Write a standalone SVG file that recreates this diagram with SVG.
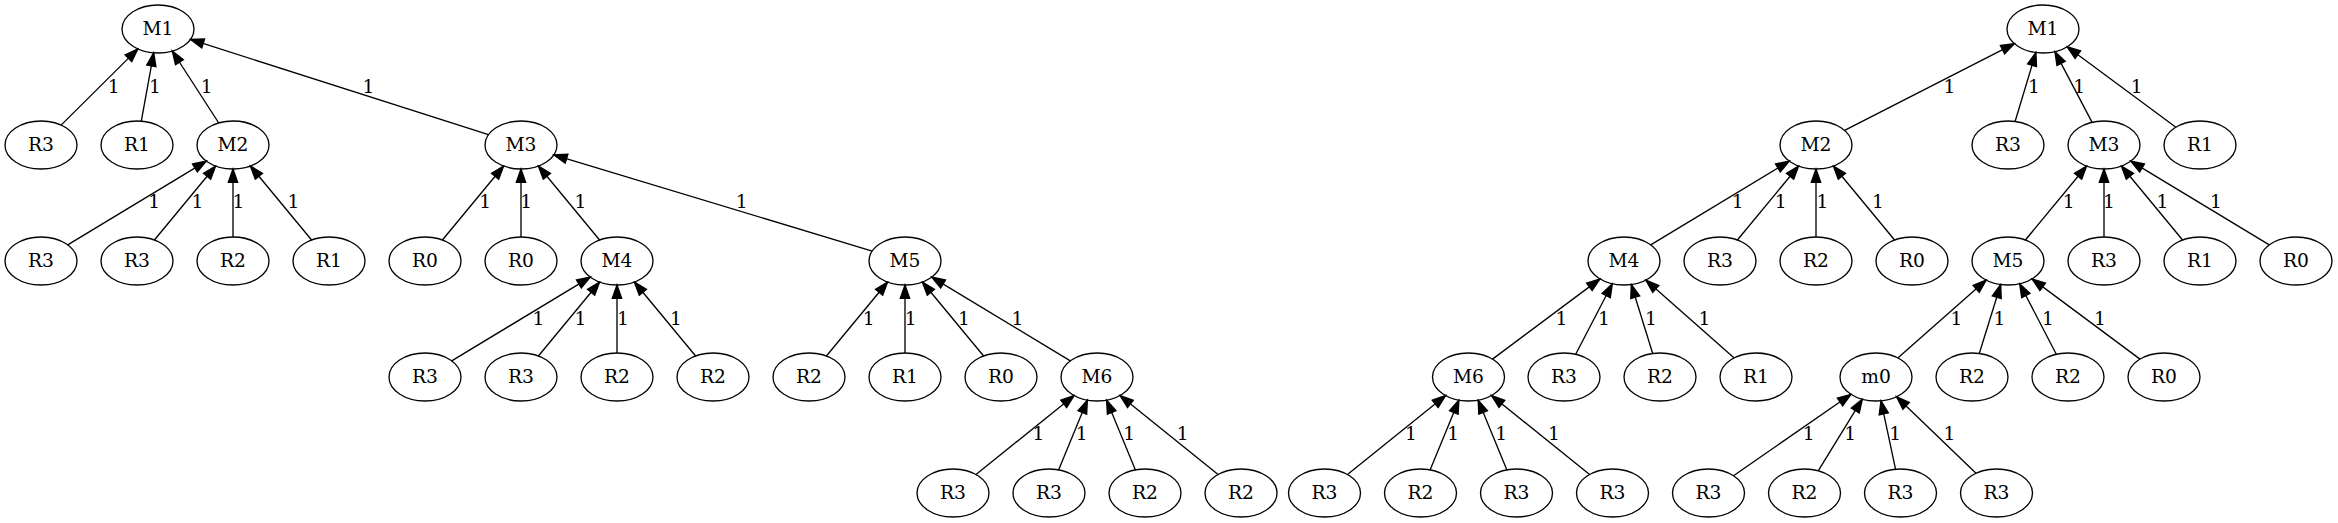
<svg xmlns="http://www.w3.org/2000/svg" width="2338" height="523" viewBox="0 0 2338 523">
<style>
.n ellipse{fill:none;stroke:#000;stroke-width:1.33}
.n text,.lb{font-family:"DejaVu Serif","Liberation Serif",serif;font-size:18.67px;fill:#000;text-anchor:middle}
.e line{stroke:#000;stroke-width:1.33;marker-end:url(#ah)}
</style>
<defs>
<marker id="ah" markerUnits="userSpaceOnUse" viewBox="-1 -6 16 12" refX="13.33" refY="0" markerWidth="16" markerHeight="12" orient="auto">
<path d="M0,-4.67 L13.33,0 L0,4.67 Z" fill="#000" stroke="#000" stroke-width="1.33"/>
</marker>
</defs>
<rect width="2338" height="523" fill="#fff"/>
<g id="connectors" class="e">
<line x1="61.1" y1="125.1" x2="137.9" y2="48.9"/>
<line x1="141.3" y1="121.2" x2="153.7" y2="52.8"/>
<line x1="218.75" y1="123" x2="172.25" y2="51"/>
<line x1="488.5" y1="134.6" x2="190.5" y2="39.4"/>
<line x1="67.7" y1="244.9" x2="206.3" y2="161.1"/>
<line x1="154.4" y1="240" x2="215.6" y2="166"/>
<line x1="233" y1="237" x2="233" y2="169"/>
<line x1="311.6" y1="240" x2="250.4" y2="166"/>
<line x1="442.4" y1="240" x2="503.6" y2="166"/>
<line x1="521" y1="237" x2="521" y2="169"/>
<line x1="599.6" y1="240" x2="538.4" y2="166"/>
<line x1="872.2" y1="251.1" x2="553.8" y2="154.9"/>
<line x1="451.7" y1="360.9" x2="590.3" y2="277.1"/>
<line x1="538.4" y1="356" x2="599.6" y2="282"/>
<line x1="617" y1="353" x2="617" y2="285"/>
<line x1="695.6" y1="356" x2="634.4" y2="282"/>
<line x1="826.4" y1="356" x2="887.6" y2="282"/>
<line x1="905" y1="353" x2="905" y2="285"/>
<line x1="983.6" y1="356" x2="922.4" y2="282"/>
<line x1="1070.3" y1="360.9" x2="931.7" y2="277.1"/>
<line x1="976" y1="474.5" x2="1074.1" y2="395.5"/>
<line x1="1058.6" y1="469.9" x2="1087.4" y2="400.1"/>
<line x1="1135.4" y1="469.9" x2="1106.6" y2="400.1"/>
<line x1="1218.1" y1="474.5" x2="1120" y2="395.5"/>
<line x1="1844.6" y1="130.4" x2="2014.4" y2="43.6"/>
<line x1="2015.1" y1="121.5" x2="2035.9" y2="52.5"/>
<line x1="2092.1" y1="122.4" x2="2054.9" y2="51.6"/>
<line x1="2175.9" y1="127.2" x2="2067.1" y2="46.8"/>
<line x1="1650.7" y1="244.9" x2="1789.3" y2="161.1"/>
<line x1="1737.4" y1="240" x2="1798.6" y2="166"/>
<line x1="1816" y1="237" x2="1816" y2="169"/>
<line x1="1894.6" y1="240" x2="1833.4" y2="166"/>
<line x1="2025.4" y1="240" x2="2086.6" y2="166"/>
<line x1="2104" y1="237" x2="2104" y2="169"/>
<line x1="2182.6" y1="240" x2="2121.4" y2="166"/>
<line x1="2269.3" y1="244.9" x2="2130.7" y2="161.1"/>
<line x1="1492.5" y1="359.1" x2="1600" y2="278.9"/>
<line x1="1575.7" y1="354.3" x2="1612.3" y2="283.7"/>
<line x1="1652.7" y1="353.5" x2="1631.3" y2="284.5"/>
<line x1="1734.2" y1="357.9" x2="1645.8" y2="280.1"/>
<line x1="1897.8" y1="357.9" x2="1986.2" y2="280.1"/>
<line x1="1979.3" y1="353.5" x2="2000.7" y2="284.5"/>
<line x1="2056.3" y1="354.3" x2="2019.7" y2="283.7"/>
<line x1="2140" y1="359.1" x2="2032" y2="278.9"/>
<line x1="1347.5" y1="474.5" x2="1445.6" y2="395.5"/>
<line x1="1430.1" y1="469.9" x2="1458.9" y2="400.1"/>
<line x1="1506.9" y1="469.9" x2="1478.1" y2="400.1"/>
<line x1="1589.6" y1="474.5" x2="1491.5" y2="395.5"/>
<line x1="1733.5" y1="475.7" x2="1851" y2="394.3"/>
<line x1="1818.2" y1="470.8" x2="1862.3" y2="399.2"/>
<line x1="1895.5" y1="469.2" x2="1881" y2="400.8"/>
<line x1="1976" y1="473.3" x2="1896.5" y2="396.7"/>
</g>
<g id="edge-labels">
<text class="lb" x="113.6" y="92.5">1</text>
<text class="lb" x="155" y="92.5">1</text>
<text class="lb" x="206.6" y="92.5">1</text>
<text class="lb" x="368.5" y="92.5">1</text>
<text class="lb" x="154.2" y="208.3">1</text>
<text class="lb" x="197.5" y="208.3">1</text>
<text class="lb" x="238.4" y="208.3">1</text>
<text class="lb" x="293.5" y="208.3">1</text>
<text class="lb" x="485.2" y="208.3">1</text>
<text class="lb" x="526.2" y="208.3">1</text>
<text class="lb" x="580.5" y="208.3">1</text>
<text class="lb" x="741.6" y="208.3">1</text>
<text class="lb" x="538.4" y="325">1</text>
<text class="lb" x="580.5" y="325">1</text>
<text class="lb" x="622.9" y="325">1</text>
<text class="lb" x="676" y="325">1</text>
<text class="lb" x="868.8" y="325">1</text>
<text class="lb" x="910.8" y="325">1</text>
<text class="lb" x="963.9" y="325">1</text>
<text class="lb" x="1017.5" y="325">1</text>
<text class="lb" x="1038.5" y="440">1</text>
<text class="lb" x="1081.8" y="440">1</text>
<text class="lb" x="1129.1" y="440">1</text>
<text class="lb" x="1182.7" y="440">1</text>
<text class="lb" x="1949.4" y="92.5">1</text>
<text class="lb" x="2034" y="92.5">1</text>
<text class="lb" x="2079.2" y="92.5">1</text>
<text class="lb" x="2136.8" y="92.5">1</text>
<text class="lb" x="1737.8" y="208.3">1</text>
<text class="lb" x="1780.8" y="208.3">1</text>
<text class="lb" x="1822.4" y="208.3">1</text>
<text class="lb" x="1878" y="208.3">1</text>
<text class="lb" x="2068.8" y="208.3">1</text>
<text class="lb" x="2109" y="208.3">1</text>
<text class="lb" x="2162.5" y="208.3">1</text>
<text class="lb" x="2215.9" y="208.3">1</text>
<text class="lb" x="1561.5" y="325">1</text>
<text class="lb" x="1603.9" y="325">1</text>
<text class="lb" x="1651" y="325">1</text>
<text class="lb" x="1704.5" y="325">1</text>
<text class="lb" x="1956.4" y="325">1</text>
<text class="lb" x="1999.4" y="325">1</text>
<text class="lb" x="2048" y="325">1</text>
<text class="lb" x="2100" y="325">1</text>
<text class="lb" x="1411" y="440">1</text>
<text class="lb" x="1453.3" y="440">1</text>
<text class="lb" x="1501.2" y="440">1</text>
<text class="lb" x="1554" y="440">1</text>
<text class="lb" x="1808.6" y="440">1</text>
<text class="lb" x="1850.2" y="440">1</text>
<text class="lb" x="1895.3" y="440">1</text>
<text class="lb" x="1949.4" y="440">1</text>
</g>
<g class="n">
<g id="a_M1"><ellipse cx="158" cy="29" rx="36" ry="24"/><text x="158" y="34.5">M1</text></g>
<g id="a_R3_1"><ellipse cx="41" cy="145" rx="36" ry="24"/><text x="41" y="150.5">R3</text></g>
<g id="a_R1_1"><ellipse cx="137" cy="145" rx="36" ry="24"/><text x="137" y="150.5">R1</text></g>
<g id="a_M2"><ellipse cx="233" cy="145" rx="36" ry="24"/><text x="233" y="150.5">M2</text></g>
<g id="a_M3"><ellipse cx="521" cy="145" rx="36" ry="24"/><text x="521" y="150.5">M3</text></g>
<g id="a_R3_2"><ellipse cx="41" cy="261" rx="36" ry="24"/><text x="41" y="266.5">R3</text></g>
<g id="a_R3_3"><ellipse cx="137" cy="261" rx="36" ry="24"/><text x="137" y="266.5">R3</text></g>
<g id="a_R2_1"><ellipse cx="233" cy="261" rx="36" ry="24"/><text x="233" y="266.5">R2</text></g>
<g id="a_R1_2"><ellipse cx="329" cy="261" rx="36" ry="24"/><text x="329" y="266.5">R1</text></g>
<g id="a_R0_1"><ellipse cx="425" cy="261" rx="36" ry="24"/><text x="425" y="266.5">R0</text></g>
<g id="a_R0_2"><ellipse cx="521" cy="261" rx="36" ry="24"/><text x="521" y="266.5">R0</text></g>
<g id="a_M4"><ellipse cx="617" cy="261" rx="36" ry="24"/><text x="617" y="266.5">M4</text></g>
<g id="a_M5"><ellipse cx="905" cy="261" rx="36" ry="24"/><text x="905" y="266.5">M5</text></g>
<g id="a_R3_4"><ellipse cx="425" cy="377" rx="36" ry="24"/><text x="425" y="382.5">R3</text></g>
<g id="a_R3_5"><ellipse cx="521" cy="377" rx="36" ry="24"/><text x="521" y="382.5">R3</text></g>
<g id="a_R2_2"><ellipse cx="617" cy="377" rx="36" ry="24"/><text x="617" y="382.5">R2</text></g>
<g id="a_R2_3"><ellipse cx="713" cy="377" rx="36" ry="24"/><text x="713" y="382.5">R2</text></g>
<g id="a_R2_4"><ellipse cx="809" cy="377" rx="36" ry="24"/><text x="809" y="382.5">R2</text></g>
<g id="a_R1_3"><ellipse cx="905" cy="377" rx="36" ry="24"/><text x="905" y="382.5">R1</text></g>
<g id="a_R0_3"><ellipse cx="1001" cy="377" rx="36" ry="24"/><text x="1001" y="382.5">R0</text></g>
<g id="a_M6"><ellipse cx="1097" cy="377" rx="36" ry="24"/><text x="1097" y="382.5">M6</text></g>
<g id="a_R3_6"><ellipse cx="953" cy="493" rx="36" ry="24"/><text x="953" y="498.5">R3</text></g>
<g id="a_R3_7"><ellipse cx="1049" cy="493" rx="36" ry="24"/><text x="1049" y="498.5">R3</text></g>
<g id="a_R2_5"><ellipse cx="1145" cy="493" rx="36" ry="24"/><text x="1145" y="498.5">R2</text></g>
<g id="a_R2_6"><ellipse cx="1241" cy="493" rx="36" ry="24"/><text x="1241" y="498.5">R2</text></g>
<g id="b_M1"><ellipse cx="2043" cy="29" rx="36" ry="24"/><text x="2043" y="34.5">M1</text></g>
<g id="b_M2"><ellipse cx="1816" cy="145" rx="36" ry="24"/><text x="1816" y="150.5">M2</text></g>
<g id="b_R3_1"><ellipse cx="2008" cy="145" rx="36" ry="24"/><text x="2008" y="150.5">R3</text></g>
<g id="b_M3"><ellipse cx="2104" cy="145" rx="36" ry="24"/><text x="2104" y="150.5">M3</text></g>
<g id="b_R1_1"><ellipse cx="2200" cy="145" rx="36" ry="24"/><text x="2200" y="150.5">R1</text></g>
<g id="b_M4"><ellipse cx="1624" cy="261" rx="36" ry="24"/><text x="1624" y="266.5">M4</text></g>
<g id="b_R3_2"><ellipse cx="1720" cy="261" rx="36" ry="24"/><text x="1720" y="266.5">R3</text></g>
<g id="b_R2_1"><ellipse cx="1816" cy="261" rx="36" ry="24"/><text x="1816" y="266.5">R2</text></g>
<g id="b_R0_1"><ellipse cx="1912" cy="261" rx="36" ry="24"/><text x="1912" y="266.5">R0</text></g>
<g id="b_M5"><ellipse cx="2008" cy="261" rx="36" ry="24"/><text x="2008" y="266.5">M5</text></g>
<g id="b_R3_3"><ellipse cx="2104" cy="261" rx="36" ry="24"/><text x="2104" y="266.5">R3</text></g>
<g id="b_R1_2"><ellipse cx="2200" cy="261" rx="36" ry="24"/><text x="2200" y="266.5">R1</text></g>
<g id="b_R0_2"><ellipse cx="2296" cy="261" rx="36" ry="24"/><text x="2296" y="266.5">R0</text></g>
<g id="b_M6"><ellipse cx="1468.5" cy="377" rx="36" ry="24"/><text x="1468.5" y="382.5">M6</text></g>
<g id="b_R3_4"><ellipse cx="1564" cy="377" rx="36" ry="24"/><text x="1564" y="382.5">R3</text></g>
<g id="b_R2_2"><ellipse cx="1660" cy="377" rx="36" ry="24"/><text x="1660" y="382.5">R2</text></g>
<g id="b_R1_3"><ellipse cx="1756" cy="377" rx="36" ry="24"/><text x="1756" y="382.5">R1</text></g>
<g id="b_m0"><ellipse cx="1876" cy="377" rx="36" ry="24"/><text x="1876" y="382.5">m0</text></g>
<g id="b_R2_3"><ellipse cx="1972" cy="377" rx="36" ry="24"/><text x="1972" y="382.5">R2</text></g>
<g id="b_R2_4"><ellipse cx="2068" cy="377" rx="36" ry="24"/><text x="2068" y="382.5">R2</text></g>
<g id="b_R0_3"><ellipse cx="2164" cy="377" rx="36" ry="24"/><text x="2164" y="382.5">R0</text></g>
<g id="b_R3_5"><ellipse cx="1324.5" cy="493" rx="36" ry="24"/><text x="1324.5" y="498.5">R3</text></g>
<g id="b_R2_5"><ellipse cx="1420.5" cy="493" rx="36" ry="24"/><text x="1420.5" y="498.5">R2</text></g>
<g id="b_R3_6"><ellipse cx="1516.5" cy="493" rx="36" ry="24"/><text x="1516.5" y="498.5">R3</text></g>
<g id="b_R3_7"><ellipse cx="1612.5" cy="493" rx="36" ry="24"/><text x="1612.5" y="498.5">R3</text></g>
<g id="b_R3_8"><ellipse cx="1708.5" cy="493" rx="36" ry="24"/><text x="1708.5" y="498.5">R3</text></g>
<g id="b_R2_6"><ellipse cx="1804.5" cy="493" rx="36" ry="24"/><text x="1804.5" y="498.5">R2</text></g>
<g id="b_R3_9"><ellipse cx="1900.5" cy="493" rx="36" ry="24"/><text x="1900.5" y="498.5">R3</text></g>
<g id="b_R3_10"><ellipse cx="1996.5" cy="493" rx="36" ry="24"/><text x="1996.5" y="498.5">R3</text></g>
</g>
</svg>
